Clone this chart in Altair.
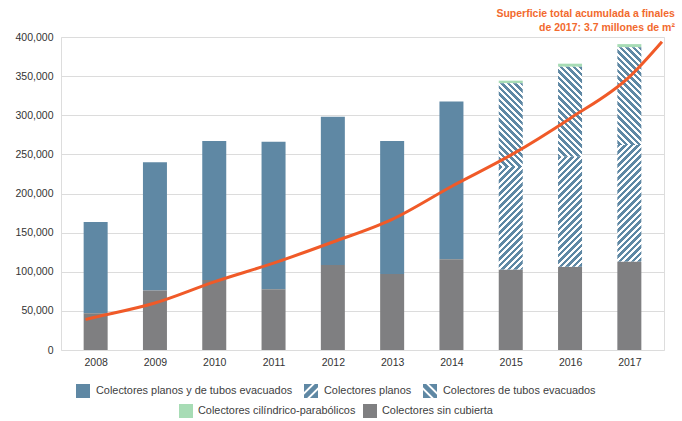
import altair as alt
import pandas as pd

# ---------------- data ----------------
years = [2008, 2009, 2010, 2011, 2012, 2013, 2014, 2015, 2016, 2017]
sin_cubierta = [47000, 76000, 89500, 77500, 108500, 97000, 116000, 103000, 106500, 113000]
planos_y_tubos = [116500, 164000, 177500, 188500, 189500, 170000, 201500, 0, 0, 0]
planos = [0, 0, 0, 0, 0, 0, 0, 131000, 140500, 149000]
tubos = [0, 0, 0, 0, 0, 0, 0, 107000, 115000, 125000]
cilindrico = [0, 0, 0, 0, 0, 0, 0, 3200, 3900, 3900]

curve_x = [2007.83, 2008, 2009, 2010, 2011, 2012, 2013, 2014, 2015, 2016, 2017, 2017.55]
curve_y = [39000, 42000, 60000, 87000, 111000, 138000, 167000, 209000, 249000, 296000, 349000, 394000]

S_PYT = "Colectores planos y de tubos evacuados"
S_PL = "Colectores planos"
S_TU = "Colectores de tubos evacuados"
S_CI = "Colectores cilíndrico-parabólicos"
S_SC = "Colectores sin cubierta"
series = [(S_SC, sin_cubierta), (S_PYT, planos_y_tubos), (S_PL, planos), (S_TU, tubos), (S_CI, cilindrico)]

rows = []
for order, (name, vals) in enumerate(series):
    for yr, v in zip(years, vals):
        if v > 0:
            rows.append({"year": yr, "serie": name, "value": v, "order": order})
df = pd.DataFrame(rows)
curve_df = pd.DataFrame({"year": curve_x, "val": curve_y})

# ---------------- style ----------------
FONT = "Liberation Sans"
BLUE = "#5F88A4"
GRAY = "#7F7F81"
GREEN = "#A7DCB5"
ORANGE = "#F05A28"
W, H = 603, 313
YMAX = 400000
BAR_W = 24

X = alt.X("year:Q", title=None,
          scale=alt.Scale(domain=[2007.5, 2017.5], nice=False, zero=False),
          axis=alt.Axis(values=years, format="d", grid=False, ticks=False, domain=False,
                        labelPadding=7, labelFontSize=10.5, labelColor="#333333", labelFont=FONT))
YAX = alt.Axis(values=list(range(0, 400001, 50000)), format=",d", ticks=False, domain=False,
               grid=True, gridColor="#DCDCDC", labelPadding=8, labelFontSize=10.5,
               labelColor="#333333", labelFont=FONT)
YSC = alt.Scale(domain=[0, YMAX], nice=False)


def stacked():
    return alt.Chart(df).transform_stack(
        stack="value", groupby=["year"], as_=["v0", "v1"],
        sort=[alt.SortField("order", order="ascending")])


def hatch(h_px, w_px, direction, period=6.5, frac=0.55):
    r = h_px / w_px
    L = w_px + h_px
    a = L / (w_px * (1 + r * r))
    if direction == "/":
        x1, y1, x2, y2 = 0, 0, a, a * r
    else:
        x1, y1, x2, y2 = 1, 0, 1 - a, a * r
    stops = []
    k = 0
    while k * period < L:
        s0 = min(1, k * period / L)
        s1 = min(1, (k + frac) * period / L)
        s2 = min(1, (k + 1) * period / L)
        stops += [{"offset": s0, "color": BLUE}, {"offset": s1, "color": BLUE},
                  {"offset": s1, "color": "#FFFFFF"}, {"offset": s2, "color": "#FFFFFF"}]
        k += 1
    return {"gradient": "linear", "x1": x1, "y1": y1, "x2": x2, "y2": y2, "stops": stops}


def band_path(c1, c2, mirror=False):
    # polygon of the square [-1,1]^2 where c1 <= x + y <= c2
    def clip(poly, f):
        out = []
        n = len(poly)
        for i in range(n):
            p, q = poly[i], poly[(i + 1) % n]
            fp, fq = f(p), f(q)
            if fp >= 0:
                out.append(p)
            if (fp >= 0) != (fq >= 0):
                t = fp / (fp - fq)
                out.append((p[0] + t * (q[0] - p[0]), p[1] + t * (q[1] - p[1])))
        return out
    poly = [(-1, -1), (1, -1), (1, 1), (-1, 1)]
    poly = clip(poly, lambda p: p[0] + p[1] - c1)
    poly = clip(poly, lambda p: c2 - (p[0] + p[1]))
    pts = [((-x if mirror else x), y) for x, y in poly]
    return "M" + "L".join(f"{x:.3f},{y:.3f}" for x, y in pts) + "Z"


def stripes(mirror):
    bands = [(-2.0, -0.85), (-0.45, 0.45), (0.85, 2.0)]
    return " ".join(band_path(a, b, mirror) for a, b in bands)


legA = alt.Legend(orient="none", legendX=15, legendY=347, direction="horizontal", title=None,
                  labelFontSize=10.9, labelFont=FONT, labelColor="#404040", labelLimit=320,
                  symbolSize=196, symbolStrokeWidth=0, symbolOpacity=1,
                  columnPadding=11, labelOffset=6)
legB = alt.Legend(orient="none", legendX=118, legendY=367, direction="horizontal", title=None,
                  labelFontSize=10.9, labelFont=FONT, labelColor="#404040", labelLimit=320,
                  symbolSize=196, symbolStrokeWidth=0, symbolType="square", symbolOpacity=1,
                  columnPadding=7, labelOffset=5)

scaleA = alt.Scale(domain=[S_PYT, S_PL, S_TU], range=[BLUE, BLUE, BLUE])
shapeA = alt.Scale(domain=[S_PYT, S_PL, S_TU], range=["square", stripes(False), stripes(True)])
scaleB = alt.Scale(domain=[S_CI, S_SC], range=[GREEN, GRAY])

# invisible points (drawn far above the view) that carry the legend of the blue series
legend_pts = alt.Chart(df).transform_filter(
    alt.FieldOneOfPredicate(field="serie", oneOf=[S_PYT, S_PL, S_TU])
).mark_point(filled=True, clip=True, opacity=1).encode(
    x=X, y=alt.value(-2000),
    fill=alt.Fill("serie:N", scale=scaleA, legend=legA),
    shape=alt.Shape("serie:N", scale=shapeA, legend=legA))

blue_bars = stacked().transform_filter(alt.datum.serie == S_PYT).mark_bar(size=BAR_W).encode(
    x=X, y=alt.Y("v1:Q", scale=YSC, axis=YAX, title=None), y2="v0:Q",
    fill=alt.value(BLUE))

groupB = stacked().transform_filter(
    alt.FieldOneOfPredicate(field="serie", oneOf=[S_CI, S_SC])).mark_bar(size=BAR_W).encode(
    x=X, y=alt.Y("v1:Q", scale=YSC, axis=YAX, title=None), y2="v0:Q",
    fill=alt.Fill("serie:N", scale=scaleB, legend=legB))

hatch_layers = []
for name, vals, direc in [(S_PL, planos, "/"), (S_TU, tubos, "\\")]:
    for yr, v in zip(years, vals):
        if v <= 0:
            continue
        grad = hatch(v * H / YMAX, BAR_W, direc)
        hatch_layers.append(
            stacked().transform_filter((alt.datum.serie == name) & (alt.datum.year == yr))
            .mark_bar(size=BAR_W, fill=grad).encode(
                x=X, y=alt.Y("v1:Q", scale=YSC, axis=YAX, title=None), y2="v0:Q"))

line = alt.Chart(curve_df).mark_line(color=ORANGE, strokeWidth=3, interpolate="monotone").encode(
    x=X, y=alt.Y("val:Q", scale=YSC, axis=YAX, title=None))

chart = alt.layer(blue_bars, groupB, *hatch_layers, line, legend_pts).resolve_scale(
    fill="independent", shape="independent"
).properties(
    width=W, height=H,
    autosize=alt.AutoSizeParams(type="none"),
    padding={"left": 61, "top": 37, "right": 18, "bottom": 71},
    title=alt.TitleParams(
        text=["Superficie total acumulada a finales", "de 2017: 3.7 millones de m²"],
        anchor="end", fontSize=10.5, fontWeight="bold", color="#F26A2E", font=FONT,
        lineHeight=14, offset=8, dx=7, dy=9),
).configure_view(stroke=None).configure(background="white")

chart.save("out.html", embed_options={"renderer": "svg", "actions": False})
